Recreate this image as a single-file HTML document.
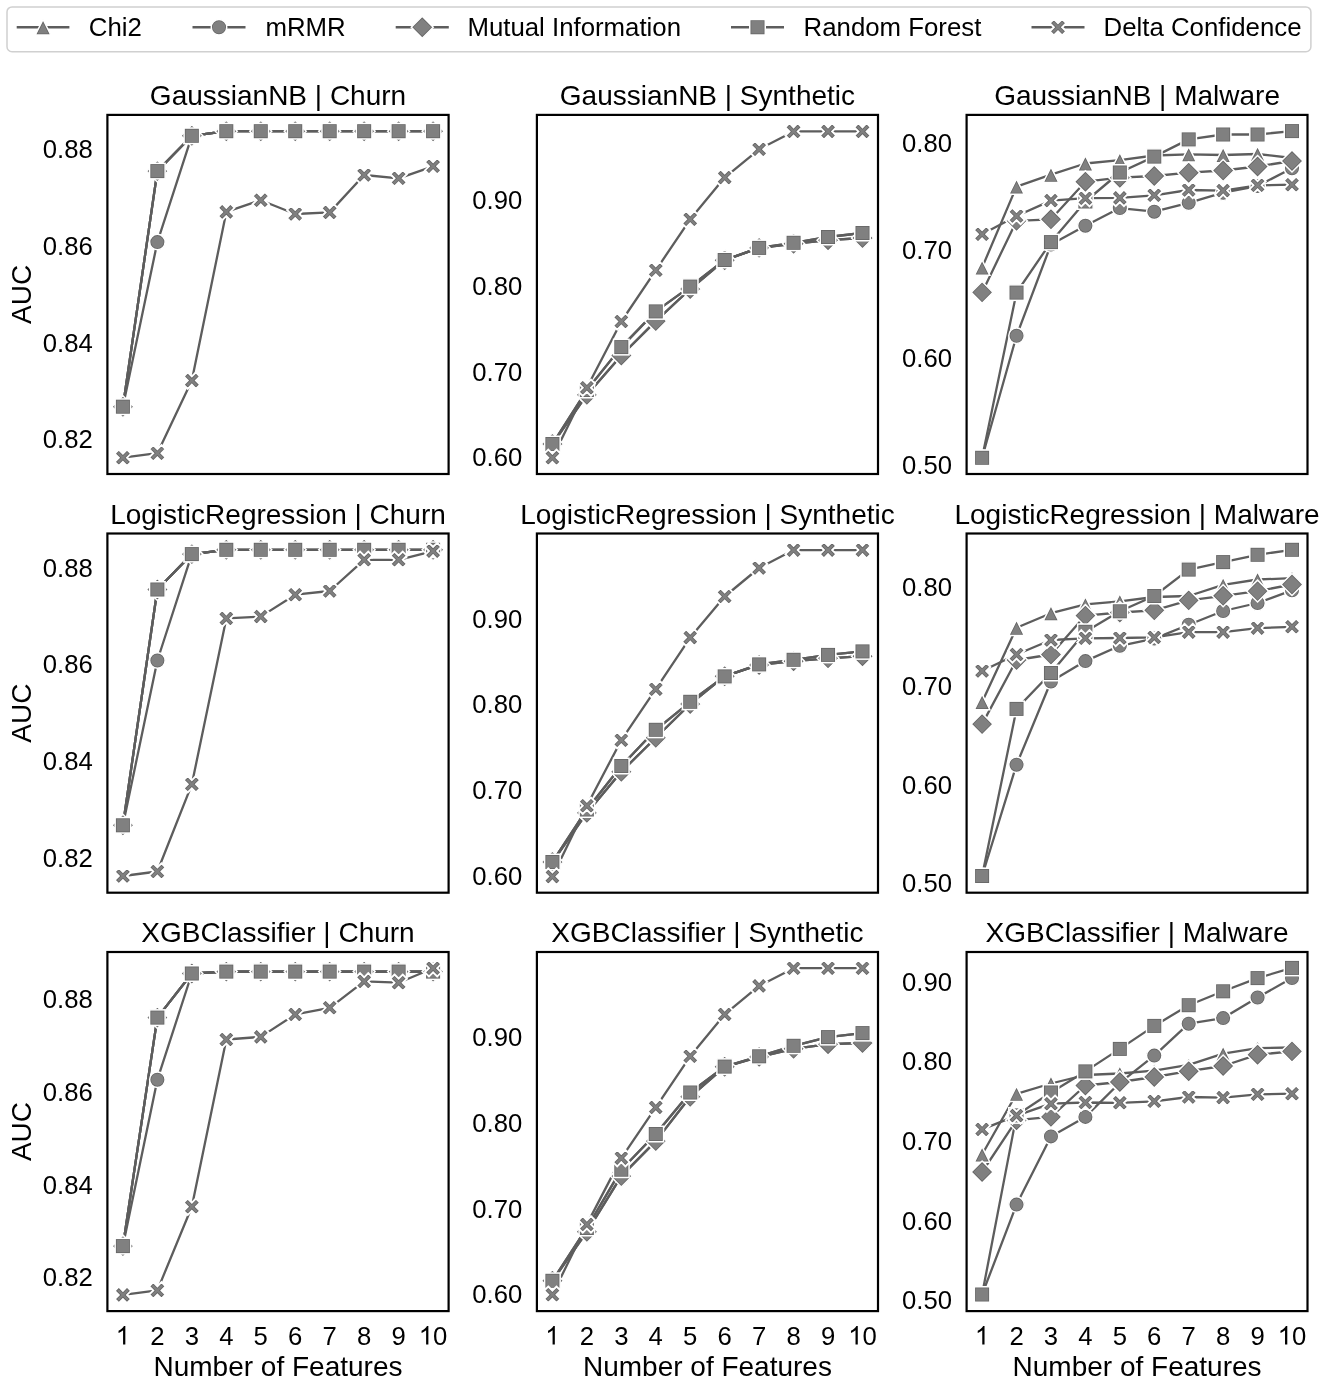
<!DOCTYPE html>
<html><head><meta charset="utf-8"><title>AUC vs Number of Features</title>
<style>
html,body{margin:0;padding:0;background:#fff;}
body{width:1325px;height:1381px;overflow:hidden;}
svg{display:block;font-family:"Liberation Sans",sans-serif;filter:grayscale(1);}
.tk{font-size:25.7px;fill:#000;}
.tl{font-size:28.0px;fill:#000;}
.lg{font-size:25.8px;fill:#000;}
</style></head><body>
<svg width="1325" height="1381" viewBox="0 0 1325 1381">
<rect x="0" y="0" width="1325" height="1381" fill="#fff"/>

<defs>
<clipPath id="c-tri"><path d="M0,-7.750 L-7.750,7.750 L7.750,7.750 Z"/></clipPath>
<g id="m-tri"><path d="M0,-7.750 L-7.750,7.750 L7.750,7.750 Z" fill="#808080"/><path d="M0,-7.750 L-7.750,7.750 L7.750,7.750 Z" fill="none" stroke="#646464" stroke-width="3.10" clip-path="url(#c-tri)"/><path d="M0,-7.750 L-7.750,7.750 L7.750,7.750 Z" fill="none" stroke="#ffffff" stroke-width="1.5" stroke-linejoin="miter"/></g>
<clipPath id="c-cir"><circle cx="0" cy="0" r="7.750"/></clipPath>
<g id="m-cir"><circle cx="0" cy="0" r="7.750" fill="#808080"/><circle cx="0" cy="0" r="7.750" fill="none" stroke="#646464" stroke-width="3.10" clip-path="url(#c-cir)"/><circle cx="0" cy="0" r="7.750" fill="none" stroke="#ffffff" stroke-width="1.5" stroke-linejoin="miter"/></g>
<clipPath id="c-dia"><path d="M0,-10.960 L10.960,0 L0,10.960 L-10.960,0 Z"/></clipPath>
<g id="m-dia"><path d="M0,-10.960 L10.960,0 L0,10.960 L-10.960,0 Z" fill="#808080"/><path d="M0,-10.960 L10.960,0 L0,10.960 L-10.960,0 Z" fill="none" stroke="#646464" stroke-width="3.10" clip-path="url(#c-dia)"/><path d="M0,-10.960 L10.960,0 L0,10.960 L-10.960,0 Z" fill="none" stroke="#ffffff" stroke-width="1.5" stroke-linejoin="miter"/></g>
<clipPath id="c-sq"><rect x="-7.750" y="-7.750" width="15.500" height="15.500"/></clipPath>
<g id="m-sq"><rect x="-7.750" y="-7.750" width="15.500" height="15.500" fill="#808080"/><rect x="-7.750" y="-7.750" width="15.500" height="15.500" fill="none" stroke="#646464" stroke-width="3.10" clip-path="url(#c-sq)"/><rect x="-7.750" y="-7.750" width="15.500" height="15.500" fill="none" stroke="#ffffff" stroke-width="1.5" stroke-linejoin="miter"/></g>
<clipPath id="c-x"><path d="M-4.100,-8.200 L0.000,-4.100 L4.100,-8.200 L8.200,-4.100 L4.100,0.000 L8.200,4.100 L4.100,8.200 L0.000,4.100 L-4.100,8.200 L-8.200,4.100 L-4.100,0.000 L-8.200,-4.100 Z"/></clipPath>
<g id="m-x"><path d="M-4.100,-8.200 L0.000,-4.100 L4.100,-8.200 L8.200,-4.100 L4.100,0.000 L8.200,4.100 L4.100,8.200 L0.000,4.100 L-4.100,8.200 L-8.200,4.100 L-4.100,0.000 L-8.200,-4.100 Z" fill="#808080"/><path d="M-4.100,-8.200 L0.000,-4.100 L4.100,-8.200 L8.200,-4.100 L4.100,0.000 L8.200,4.100 L4.100,8.200 L0.000,4.100 L-4.100,8.200 L-8.200,4.100 L-4.100,0.000 L-8.200,-4.100 Z" fill="none" stroke="#646464" stroke-width="3.50" clip-path="url(#c-x)"/><path d="M-4.100,-8.200 L0.000,-4.100 L4.100,-8.200 L8.200,-4.100 L4.100,0.000 L8.200,4.100 L4.100,8.200 L0.000,4.100 L-4.100,8.200 L-8.200,4.100 L-4.100,0.000 L-8.200,-4.100 Z" fill="none" stroke="#ffffff" stroke-width="1.9" stroke-linejoin="miter"/></g>
</defs>
<defs>
<clipPath id="clip00"><rect x="107.40" y="114.90" width="341.20" height="359.10"/></clipPath>
<clipPath id="clip01"><rect x="536.90" y="114.90" width="341.10" height="359.10"/></clipPath>
<clipPath id="clip02"><rect x="966.60" y="114.90" width="340.90" height="359.10"/></clipPath>
<clipPath id="clip10"><rect x="107.40" y="533.50" width="341.20" height="359.20"/></clipPath>
<clipPath id="clip11"><rect x="536.90" y="533.50" width="341.10" height="359.20"/></clipPath>
<clipPath id="clip12"><rect x="966.60" y="533.50" width="340.90" height="359.20"/></clipPath>
<clipPath id="clip20"><rect x="107.40" y="952.00" width="341.20" height="359.10"/></clipPath>
<clipPath id="clip21"><rect x="536.90" y="952.00" width="341.10" height="359.10"/></clipPath>
<clipPath id="clip22"><rect x="966.60" y="952.00" width="340.90" height="359.10"/></clipPath>
</defs>
<text class="tl" x="278.00" y="105.20" text-anchor="middle">GaussianNB | Churn</text>
<text class="tk" x="92.80" y="448.40" text-anchor="end">0.82</text>
<text class="tk" x="92.80" y="351.60" text-anchor="end">0.84</text>
<text class="tk" x="92.80" y="254.90" text-anchor="end">0.86</text>
<text class="tk" x="92.80" y="158.15" text-anchor="end">0.88</text>
<g clip-path="url(#clip00)">
<polyline points="122.91,406.70 157.37,171.10 191.84,135.80 226.30,131.20 260.77,131.20 295.23,131.20 329.70,131.20 364.16,131.20 398.63,131.20 433.09,131.20" fill="none" stroke="#5d5d5d" stroke-width="2.3" stroke-linejoin="round" stroke-linecap="butt"/>
<polyline points="122.91,406.70 157.37,242.10 191.84,135.80 226.30,131.20 260.77,131.20 295.23,131.20 329.70,131.20 364.16,131.20 398.63,131.20 433.09,131.20" fill="none" stroke="#5d5d5d" stroke-width="2.3" stroke-linejoin="round" stroke-linecap="butt"/>
<polyline points="122.91,406.70 157.37,171.10 191.84,135.80 226.30,131.20 260.77,131.20 295.23,131.20 329.70,131.20 364.16,131.20 398.63,131.20 433.09,131.20" fill="none" stroke="#5d5d5d" stroke-width="2.3" stroke-linejoin="round" stroke-linecap="butt"/>
<polyline points="122.91,406.70 157.37,171.10 191.84,135.80 226.30,131.20 260.77,131.20 295.23,131.20 329.70,131.20 364.16,131.20 398.63,131.20 433.09,131.20" fill="none" stroke="#5d5d5d" stroke-width="2.3" stroke-linejoin="round" stroke-linecap="butt"/>
<polyline points="122.91,457.70 157.37,453.20 191.84,380.60 226.30,211.90 260.77,200.20 295.23,214.00 329.70,212.40 364.16,175.00 398.63,178.30 433.09,166.30" fill="none" stroke="#5d5d5d" stroke-width="2.3" stroke-linejoin="round" stroke-linecap="butt"/>
<use href="#m-tri" x="122.91" y="406.70"/>
<use href="#m-tri" x="157.37" y="171.10"/>
<use href="#m-tri" x="191.84" y="135.80"/>
<use href="#m-tri" x="226.30" y="131.20"/>
<use href="#m-tri" x="260.77" y="131.20"/>
<use href="#m-tri" x="295.23" y="131.20"/>
<use href="#m-tri" x="329.70" y="131.20"/>
<use href="#m-tri" x="364.16" y="131.20"/>
<use href="#m-tri" x="398.63" y="131.20"/>
<use href="#m-tri" x="433.09" y="131.20"/>
<use href="#m-cir" x="122.91" y="406.70"/>
<use href="#m-cir" x="157.37" y="242.10"/>
<use href="#m-cir" x="191.84" y="135.80"/>
<use href="#m-cir" x="226.30" y="131.20"/>
<use href="#m-cir" x="260.77" y="131.20"/>
<use href="#m-cir" x="295.23" y="131.20"/>
<use href="#m-cir" x="329.70" y="131.20"/>
<use href="#m-cir" x="364.16" y="131.20"/>
<use href="#m-cir" x="398.63" y="131.20"/>
<use href="#m-cir" x="433.09" y="131.20"/>
<use href="#m-dia" x="122.91" y="406.70"/>
<use href="#m-dia" x="157.37" y="171.10"/>
<use href="#m-dia" x="191.84" y="135.80"/>
<use href="#m-dia" x="226.30" y="131.20"/>
<use href="#m-dia" x="260.77" y="131.20"/>
<use href="#m-dia" x="295.23" y="131.20"/>
<use href="#m-dia" x="329.70" y="131.20"/>
<use href="#m-dia" x="364.16" y="131.20"/>
<use href="#m-dia" x="398.63" y="131.20"/>
<use href="#m-dia" x="433.09" y="131.20"/>
<use href="#m-sq" x="122.91" y="406.70"/>
<use href="#m-sq" x="157.37" y="171.10"/>
<use href="#m-sq" x="191.84" y="135.80"/>
<use href="#m-sq" x="226.30" y="131.20"/>
<use href="#m-sq" x="260.77" y="131.20"/>
<use href="#m-sq" x="295.23" y="131.20"/>
<use href="#m-sq" x="329.70" y="131.20"/>
<use href="#m-sq" x="364.16" y="131.20"/>
<use href="#m-sq" x="398.63" y="131.20"/>
<use href="#m-sq" x="433.09" y="131.20"/>
<use href="#m-x" x="122.91" y="457.70"/>
<use href="#m-x" x="157.37" y="453.20"/>
<use href="#m-x" x="191.84" y="380.60"/>
<use href="#m-x" x="226.30" y="211.90"/>
<use href="#m-x" x="260.77" y="200.20"/>
<use href="#m-x" x="295.23" y="214.00"/>
<use href="#m-x" x="329.70" y="212.40"/>
<use href="#m-x" x="364.16" y="175.00"/>
<use href="#m-x" x="398.63" y="178.30"/>
<use href="#m-x" x="433.09" y="166.30"/>
</g>
<rect x="107.40" y="114.90" width="341.20" height="359.10" fill="none" stroke="#000" stroke-width="2.2"/>
<text class="tl" transform="translate(30.8,294.45) rotate(-90)" x="0" y="0" text-anchor="middle">AUC</text>
<text class="tl" x="707.45" y="105.20" text-anchor="middle">GaussianNB | Synthetic</text>
<text class="tk" x="522.30" y="466.40" text-anchor="end">0.60</text>
<text class="tk" x="522.30" y="380.60" text-anchor="end">0.70</text>
<text class="tk" x="522.30" y="294.80" text-anchor="end">0.80</text>
<text class="tk" x="522.30" y="209.05" text-anchor="end">0.90</text>
<g clip-path="url(#clip01)">
<polyline points="552.40,444.00 586.86,390.00 621.31,347.10 655.77,311.40 690.22,286.60 724.68,260.00 759.13,247.90 793.59,242.80 828.04,237.00 862.50,233.00" fill="none" stroke="#5d5d5d" stroke-width="2.3" stroke-linejoin="round" stroke-linecap="butt"/>
<polyline points="552.40,444.00 586.86,394.90 621.31,355.50 655.77,321.10 690.22,289.00 724.68,260.20 759.13,247.90 793.59,243.80 828.04,240.20 862.50,238.00" fill="none" stroke="#5d5d5d" stroke-width="2.3" stroke-linejoin="round" stroke-linecap="butt"/>
<polyline points="552.40,444.00 586.86,394.90 621.31,355.50 655.77,321.10 690.22,289.00 724.68,260.20 759.13,247.90 793.59,243.80 828.04,240.20 862.50,238.00" fill="none" stroke="#5d5d5d" stroke-width="2.3" stroke-linejoin="round" stroke-linecap="butt"/>
<polyline points="552.40,444.00 586.86,390.00 621.31,347.10 655.77,311.40 690.22,286.60 724.68,260.00 759.13,247.90 793.59,242.80 828.04,237.00 862.50,233.00" fill="none" stroke="#5d5d5d" stroke-width="2.3" stroke-linejoin="round" stroke-linecap="butt"/>
<polyline points="552.40,457.80 586.86,387.70 621.31,321.50 655.77,270.30 690.22,219.30 724.68,177.60 759.13,149.30 793.59,131.40 828.04,131.40 862.50,131.40" fill="none" stroke="#5d5d5d" stroke-width="2.3" stroke-linejoin="round" stroke-linecap="butt"/>
<use href="#m-tri" x="552.40" y="444.00"/>
<use href="#m-tri" x="586.86" y="390.00"/>
<use href="#m-tri" x="621.31" y="347.10"/>
<use href="#m-tri" x="655.77" y="311.40"/>
<use href="#m-tri" x="690.22" y="286.60"/>
<use href="#m-tri" x="724.68" y="260.00"/>
<use href="#m-tri" x="759.13" y="247.90"/>
<use href="#m-tri" x="793.59" y="242.80"/>
<use href="#m-tri" x="828.04" y="237.00"/>
<use href="#m-tri" x="862.50" y="233.00"/>
<use href="#m-cir" x="552.40" y="444.00"/>
<use href="#m-cir" x="586.86" y="394.90"/>
<use href="#m-cir" x="621.31" y="355.50"/>
<use href="#m-cir" x="655.77" y="321.10"/>
<use href="#m-cir" x="690.22" y="289.00"/>
<use href="#m-cir" x="724.68" y="260.20"/>
<use href="#m-cir" x="759.13" y="247.90"/>
<use href="#m-cir" x="793.59" y="243.80"/>
<use href="#m-cir" x="828.04" y="240.20"/>
<use href="#m-cir" x="862.50" y="238.00"/>
<use href="#m-dia" x="552.40" y="444.00"/>
<use href="#m-dia" x="586.86" y="394.90"/>
<use href="#m-dia" x="621.31" y="355.50"/>
<use href="#m-dia" x="655.77" y="321.10"/>
<use href="#m-dia" x="690.22" y="289.00"/>
<use href="#m-dia" x="724.68" y="260.20"/>
<use href="#m-dia" x="759.13" y="247.90"/>
<use href="#m-dia" x="793.59" y="243.80"/>
<use href="#m-dia" x="828.04" y="240.20"/>
<use href="#m-dia" x="862.50" y="238.00"/>
<use href="#m-sq" x="552.40" y="444.00"/>
<use href="#m-sq" x="586.86" y="390.00"/>
<use href="#m-sq" x="621.31" y="347.10"/>
<use href="#m-sq" x="655.77" y="311.40"/>
<use href="#m-sq" x="690.22" y="286.60"/>
<use href="#m-sq" x="724.68" y="260.00"/>
<use href="#m-sq" x="759.13" y="247.90"/>
<use href="#m-sq" x="793.59" y="242.80"/>
<use href="#m-sq" x="828.04" y="237.00"/>
<use href="#m-sq" x="862.50" y="233.00"/>
<use href="#m-x" x="552.40" y="457.80"/>
<use href="#m-x" x="586.86" y="387.70"/>
<use href="#m-x" x="621.31" y="321.50"/>
<use href="#m-x" x="655.77" y="270.30"/>
<use href="#m-x" x="690.22" y="219.30"/>
<use href="#m-x" x="724.68" y="177.60"/>
<use href="#m-x" x="759.13" y="149.30"/>
<use href="#m-x" x="793.59" y="131.40"/>
<use href="#m-x" x="828.04" y="131.40"/>
<use href="#m-x" x="862.50" y="131.40"/>
</g>
<rect x="536.90" y="114.90" width="341.10" height="359.10" fill="none" stroke="#000" stroke-width="2.2"/>
<text class="tl" x="1137.05" y="105.20" text-anchor="middle">GaussianNB | Malware</text>
<text class="tk" x="952.00" y="474.10" text-anchor="end">0.50</text>
<text class="tk" x="952.00" y="366.75" text-anchor="end">0.60</text>
<text class="tk" x="952.00" y="259.40" text-anchor="end">0.70</text>
<text class="tk" x="952.00" y="152.05" text-anchor="end">0.80</text>
<g clip-path="url(#clip02)">
<polyline points="982.10,267.60 1016.53,186.60 1050.96,174.70 1085.40,163.50 1119.83,160.20 1154.27,155.50 1188.70,154.30 1223.14,155.00 1257.57,154.00 1292.00,158.00" fill="none" stroke="#5d5d5d" stroke-width="2.3" stroke-linejoin="round" stroke-linecap="butt"/>
<polyline points="982.10,457.80 1016.53,335.80 1050.96,244.50 1085.40,225.70 1119.83,208.10 1154.27,211.70 1188.70,202.80 1223.14,192.70 1257.57,186.00 1292.00,168.30" fill="none" stroke="#5d5d5d" stroke-width="2.3" stroke-linejoin="round" stroke-linecap="butt"/>
<polyline points="982.10,292.40 1016.53,220.90 1050.96,219.30 1085.40,181.70 1119.83,177.70 1154.27,176.00 1188.70,172.70 1223.14,170.50 1257.57,166.50 1292.00,161.00" fill="none" stroke="#5d5d5d" stroke-width="2.3" stroke-linejoin="round" stroke-linecap="butt"/>
<polyline points="982.10,457.80 1016.53,292.60 1050.96,242.10 1085.40,201.50 1119.83,172.50 1154.27,156.60 1188.70,139.40 1223.14,134.50 1257.57,134.50 1292.00,131.10" fill="none" stroke="#5d5d5d" stroke-width="2.3" stroke-linejoin="round" stroke-linecap="butt"/>
<polyline points="982.10,234.30 1016.53,216.00 1050.96,200.60 1085.40,198.20 1119.83,197.90 1154.27,195.30 1188.70,190.00 1223.14,190.60 1257.57,185.30 1292.00,184.70" fill="none" stroke="#5d5d5d" stroke-width="2.3" stroke-linejoin="round" stroke-linecap="butt"/>
<use href="#m-tri" x="982.10" y="267.60"/>
<use href="#m-tri" x="1016.53" y="186.60"/>
<use href="#m-tri" x="1050.96" y="174.70"/>
<use href="#m-tri" x="1085.40" y="163.50"/>
<use href="#m-tri" x="1119.83" y="160.20"/>
<use href="#m-tri" x="1154.27" y="155.50"/>
<use href="#m-tri" x="1188.70" y="154.30"/>
<use href="#m-tri" x="1223.14" y="155.00"/>
<use href="#m-tri" x="1257.57" y="154.00"/>
<use href="#m-tri" x="1292.00" y="158.00"/>
<use href="#m-cir" x="982.10" y="457.80"/>
<use href="#m-cir" x="1016.53" y="335.80"/>
<use href="#m-cir" x="1050.96" y="244.50"/>
<use href="#m-cir" x="1085.40" y="225.70"/>
<use href="#m-cir" x="1119.83" y="208.10"/>
<use href="#m-cir" x="1154.27" y="211.70"/>
<use href="#m-cir" x="1188.70" y="202.80"/>
<use href="#m-cir" x="1223.14" y="192.70"/>
<use href="#m-cir" x="1257.57" y="186.00"/>
<use href="#m-cir" x="1292.00" y="168.30"/>
<use href="#m-dia" x="982.10" y="292.40"/>
<use href="#m-dia" x="1016.53" y="220.90"/>
<use href="#m-dia" x="1050.96" y="219.30"/>
<use href="#m-dia" x="1085.40" y="181.70"/>
<use href="#m-dia" x="1119.83" y="177.70"/>
<use href="#m-dia" x="1154.27" y="176.00"/>
<use href="#m-dia" x="1188.70" y="172.70"/>
<use href="#m-dia" x="1223.14" y="170.50"/>
<use href="#m-dia" x="1257.57" y="166.50"/>
<use href="#m-dia" x="1292.00" y="161.00"/>
<use href="#m-sq" x="982.10" y="457.80"/>
<use href="#m-sq" x="1016.53" y="292.60"/>
<use href="#m-sq" x="1050.96" y="242.10"/>
<use href="#m-sq" x="1085.40" y="201.50"/>
<use href="#m-sq" x="1119.83" y="172.50"/>
<use href="#m-sq" x="1154.27" y="156.60"/>
<use href="#m-sq" x="1188.70" y="139.40"/>
<use href="#m-sq" x="1223.14" y="134.50"/>
<use href="#m-sq" x="1257.57" y="134.50"/>
<use href="#m-sq" x="1292.00" y="131.10"/>
<use href="#m-x" x="982.10" y="234.30"/>
<use href="#m-x" x="1016.53" y="216.00"/>
<use href="#m-x" x="1050.96" y="200.60"/>
<use href="#m-x" x="1085.40" y="198.20"/>
<use href="#m-x" x="1119.83" y="197.90"/>
<use href="#m-x" x="1154.27" y="195.30"/>
<use href="#m-x" x="1188.70" y="190.00"/>
<use href="#m-x" x="1223.14" y="190.60"/>
<use href="#m-x" x="1257.57" y="185.30"/>
<use href="#m-x" x="1292.00" y="184.70"/>
</g>
<rect x="966.60" y="114.90" width="340.90" height="359.10" fill="none" stroke="#000" stroke-width="2.2"/>
<text class="tl" x="278.00" y="523.80" text-anchor="middle">LogisticRegression | Churn</text>
<text class="tk" x="92.80" y="867.00" text-anchor="end">0.82</text>
<text class="tk" x="92.80" y="770.20" text-anchor="end">0.84</text>
<text class="tk" x="92.80" y="673.40" text-anchor="end">0.86</text>
<text class="tk" x="92.80" y="576.60" text-anchor="end">0.88</text>
<g clip-path="url(#clip10)">
<polyline points="122.91,825.30 157.37,589.50 191.84,554.10 226.30,549.80 260.77,549.80 295.23,549.80 329.70,549.80 364.16,549.80 398.63,549.80 433.09,549.80" fill="none" stroke="#5d5d5d" stroke-width="2.3" stroke-linejoin="round" stroke-linecap="butt"/>
<polyline points="122.91,825.30 157.37,660.50 191.84,554.10 226.30,549.80 260.77,549.80 295.23,549.80 329.70,549.80 364.16,549.80 398.63,549.80 433.09,549.80" fill="none" stroke="#5d5d5d" stroke-width="2.3" stroke-linejoin="round" stroke-linecap="butt"/>
<polyline points="122.91,825.30 157.37,589.50 191.84,554.10 226.30,549.80 260.77,549.80 295.23,549.80 329.70,549.80 364.16,549.80 398.63,549.80 433.09,549.80" fill="none" stroke="#5d5d5d" stroke-width="2.3" stroke-linejoin="round" stroke-linecap="butt"/>
<polyline points="122.91,825.30 157.37,589.50 191.84,554.10 226.30,549.80 260.77,549.80 295.23,549.80 329.70,549.80 364.16,549.80 398.63,549.80 433.09,549.80" fill="none" stroke="#5d5d5d" stroke-width="2.3" stroke-linejoin="round" stroke-linecap="butt"/>
<polyline points="122.91,876.00 157.37,871.50 191.84,784.30 226.30,618.40 260.77,616.60 295.23,594.70 329.70,591.00 364.16,559.80 398.63,559.80 433.09,551.10" fill="none" stroke="#5d5d5d" stroke-width="2.3" stroke-linejoin="round" stroke-linecap="butt"/>
<use href="#m-tri" x="122.91" y="825.30"/>
<use href="#m-tri" x="157.37" y="589.50"/>
<use href="#m-tri" x="191.84" y="554.10"/>
<use href="#m-tri" x="226.30" y="549.80"/>
<use href="#m-tri" x="260.77" y="549.80"/>
<use href="#m-tri" x="295.23" y="549.80"/>
<use href="#m-tri" x="329.70" y="549.80"/>
<use href="#m-tri" x="364.16" y="549.80"/>
<use href="#m-tri" x="398.63" y="549.80"/>
<use href="#m-tri" x="433.09" y="549.80"/>
<use href="#m-cir" x="122.91" y="825.30"/>
<use href="#m-cir" x="157.37" y="660.50"/>
<use href="#m-cir" x="191.84" y="554.10"/>
<use href="#m-cir" x="226.30" y="549.80"/>
<use href="#m-cir" x="260.77" y="549.80"/>
<use href="#m-cir" x="295.23" y="549.80"/>
<use href="#m-cir" x="329.70" y="549.80"/>
<use href="#m-cir" x="364.16" y="549.80"/>
<use href="#m-cir" x="398.63" y="549.80"/>
<use href="#m-cir" x="433.09" y="549.80"/>
<use href="#m-dia" x="122.91" y="825.30"/>
<use href="#m-dia" x="157.37" y="589.50"/>
<use href="#m-dia" x="191.84" y="554.10"/>
<use href="#m-dia" x="226.30" y="549.80"/>
<use href="#m-dia" x="260.77" y="549.80"/>
<use href="#m-dia" x="295.23" y="549.80"/>
<use href="#m-dia" x="329.70" y="549.80"/>
<use href="#m-dia" x="364.16" y="549.80"/>
<use href="#m-dia" x="398.63" y="549.80"/>
<use href="#m-dia" x="433.09" y="549.80"/>
<use href="#m-sq" x="122.91" y="825.30"/>
<use href="#m-sq" x="157.37" y="589.50"/>
<use href="#m-sq" x="191.84" y="554.10"/>
<use href="#m-sq" x="226.30" y="549.80"/>
<use href="#m-sq" x="260.77" y="549.80"/>
<use href="#m-sq" x="295.23" y="549.80"/>
<use href="#m-sq" x="329.70" y="549.80"/>
<use href="#m-sq" x="364.16" y="549.80"/>
<use href="#m-sq" x="398.63" y="549.80"/>
<use href="#m-sq" x="433.09" y="549.80"/>
<use href="#m-x" x="122.91" y="876.00"/>
<use href="#m-x" x="157.37" y="871.50"/>
<use href="#m-x" x="191.84" y="784.30"/>
<use href="#m-x" x="226.30" y="618.40"/>
<use href="#m-x" x="260.77" y="616.60"/>
<use href="#m-x" x="295.23" y="594.70"/>
<use href="#m-x" x="329.70" y="591.00"/>
<use href="#m-x" x="364.16" y="559.80"/>
<use href="#m-x" x="398.63" y="559.80"/>
<use href="#m-x" x="433.09" y="551.10"/>
</g>
<rect x="107.40" y="533.50" width="341.20" height="359.20" fill="none" stroke="#000" stroke-width="2.2"/>
<text class="tl" transform="translate(30.8,713.10) rotate(-90)" x="0" y="0" text-anchor="middle">AUC</text>
<text class="tl" x="707.45" y="523.80" text-anchor="middle">LogisticRegression | Synthetic</text>
<text class="tk" x="522.30" y="884.60" text-anchor="end">0.60</text>
<text class="tk" x="522.30" y="799.00" text-anchor="end">0.70</text>
<text class="tk" x="522.30" y="713.30" text-anchor="end">0.80</text>
<text class="tk" x="522.30" y="627.70" text-anchor="end">0.90</text>
<g clip-path="url(#clip11)">
<polyline points="552.40,862.00 586.86,809.50 621.31,766.00 655.77,729.80 690.22,701.80 724.68,676.40 759.13,664.40 793.59,659.80 828.04,654.90 862.50,651.40" fill="none" stroke="#5d5d5d" stroke-width="2.3" stroke-linejoin="round" stroke-linecap="butt"/>
<polyline points="552.40,862.00 586.86,812.90 621.31,771.80 655.77,737.80 690.22,704.00 724.68,676.20 759.13,665.00 793.59,661.20 828.04,658.30 862.50,656.20" fill="none" stroke="#5d5d5d" stroke-width="2.3" stroke-linejoin="round" stroke-linecap="butt"/>
<polyline points="552.40,862.00 586.86,812.90 621.31,771.80 655.77,737.80 690.22,704.00 724.68,676.20 759.13,665.00 793.59,661.20 828.04,658.30 862.50,656.20" fill="none" stroke="#5d5d5d" stroke-width="2.3" stroke-linejoin="round" stroke-linecap="butt"/>
<polyline points="552.40,862.00 586.86,809.50 621.31,766.00 655.77,729.80 690.22,701.80 724.68,676.40 759.13,664.40 793.59,659.80 828.04,654.90 862.50,651.40" fill="none" stroke="#5d5d5d" stroke-width="2.3" stroke-linejoin="round" stroke-linecap="butt"/>
<polyline points="552.40,876.60 586.86,805.70 621.31,740.20 655.77,689.20 690.22,637.60 724.68,596.50 759.13,568.00 793.59,550.10 828.04,550.10 862.50,550.10" fill="none" stroke="#5d5d5d" stroke-width="2.3" stroke-linejoin="round" stroke-linecap="butt"/>
<use href="#m-tri" x="552.40" y="862.00"/>
<use href="#m-tri" x="586.86" y="809.50"/>
<use href="#m-tri" x="621.31" y="766.00"/>
<use href="#m-tri" x="655.77" y="729.80"/>
<use href="#m-tri" x="690.22" y="701.80"/>
<use href="#m-tri" x="724.68" y="676.40"/>
<use href="#m-tri" x="759.13" y="664.40"/>
<use href="#m-tri" x="793.59" y="659.80"/>
<use href="#m-tri" x="828.04" y="654.90"/>
<use href="#m-tri" x="862.50" y="651.40"/>
<use href="#m-cir" x="552.40" y="862.00"/>
<use href="#m-cir" x="586.86" y="812.90"/>
<use href="#m-cir" x="621.31" y="771.80"/>
<use href="#m-cir" x="655.77" y="737.80"/>
<use href="#m-cir" x="690.22" y="704.00"/>
<use href="#m-cir" x="724.68" y="676.20"/>
<use href="#m-cir" x="759.13" y="665.00"/>
<use href="#m-cir" x="793.59" y="661.20"/>
<use href="#m-cir" x="828.04" y="658.30"/>
<use href="#m-cir" x="862.50" y="656.20"/>
<use href="#m-dia" x="552.40" y="862.00"/>
<use href="#m-dia" x="586.86" y="812.90"/>
<use href="#m-dia" x="621.31" y="771.80"/>
<use href="#m-dia" x="655.77" y="737.80"/>
<use href="#m-dia" x="690.22" y="704.00"/>
<use href="#m-dia" x="724.68" y="676.20"/>
<use href="#m-dia" x="759.13" y="665.00"/>
<use href="#m-dia" x="793.59" y="661.20"/>
<use href="#m-dia" x="828.04" y="658.30"/>
<use href="#m-dia" x="862.50" y="656.20"/>
<use href="#m-sq" x="552.40" y="862.00"/>
<use href="#m-sq" x="586.86" y="809.50"/>
<use href="#m-sq" x="621.31" y="766.00"/>
<use href="#m-sq" x="655.77" y="729.80"/>
<use href="#m-sq" x="690.22" y="701.80"/>
<use href="#m-sq" x="724.68" y="676.40"/>
<use href="#m-sq" x="759.13" y="664.40"/>
<use href="#m-sq" x="793.59" y="659.80"/>
<use href="#m-sq" x="828.04" y="654.90"/>
<use href="#m-sq" x="862.50" y="651.40"/>
<use href="#m-x" x="552.40" y="876.60"/>
<use href="#m-x" x="586.86" y="805.70"/>
<use href="#m-x" x="621.31" y="740.20"/>
<use href="#m-x" x="655.77" y="689.20"/>
<use href="#m-x" x="690.22" y="637.60"/>
<use href="#m-x" x="724.68" y="596.50"/>
<use href="#m-x" x="759.13" y="568.00"/>
<use href="#m-x" x="793.59" y="550.10"/>
<use href="#m-x" x="828.04" y="550.10"/>
<use href="#m-x" x="862.50" y="550.10"/>
</g>
<rect x="536.90" y="533.50" width="341.10" height="359.20" fill="none" stroke="#000" stroke-width="2.2"/>
<text class="tl" x="1137.05" y="523.80" text-anchor="middle">LogisticRegression | Malware</text>
<text class="tk" x="952.00" y="892.20" text-anchor="end">0.50</text>
<text class="tk" x="952.00" y="793.50" text-anchor="end">0.60</text>
<text class="tk" x="952.00" y="694.70" text-anchor="end">0.70</text>
<text class="tk" x="952.00" y="596.00" text-anchor="end">0.80</text>
<g clip-path="url(#clip12)">
<polyline points="982.10,702.00 1016.53,627.70 1050.96,613.20 1085.40,604.30 1119.83,601.30 1154.27,597.00 1188.70,596.00 1223.14,584.80 1257.57,579.50 1292.00,578.20" fill="none" stroke="#5d5d5d" stroke-width="2.3" stroke-linejoin="round" stroke-linecap="butt"/>
<polyline points="982.10,876.00 1016.53,764.70 1050.96,681.50 1085.40,661.10 1119.83,645.80 1154.27,638.60 1188.70,624.70 1223.14,611.00 1257.57,603.00 1292.00,590.30" fill="none" stroke="#5d5d5d" stroke-width="2.3" stroke-linejoin="round" stroke-linecap="butt"/>
<polyline points="982.10,724.10 1016.53,660.00 1050.96,654.50 1085.40,615.60 1119.83,612.50 1154.27,610.30 1188.70,600.40 1223.14,595.80 1257.57,591.10 1292.00,584.50" fill="none" stroke="#5d5d5d" stroke-width="2.3" stroke-linejoin="round" stroke-linecap="butt"/>
<polyline points="982.10,876.00 1016.53,708.90 1050.96,673.00 1085.40,631.80 1119.83,611.30 1154.27,596.00 1188.70,569.60 1223.14,562.10 1257.57,554.80 1292.00,549.80" fill="none" stroke="#5d5d5d" stroke-width="2.3" stroke-linejoin="round" stroke-linecap="butt"/>
<polyline points="982.10,671.00 1016.53,654.50 1050.96,640.00 1085.40,638.30 1119.83,638.00 1154.27,637.40 1188.70,632.10 1223.14,632.10 1257.57,628.10 1292.00,626.80" fill="none" stroke="#5d5d5d" stroke-width="2.3" stroke-linejoin="round" stroke-linecap="butt"/>
<use href="#m-tri" x="982.10" y="702.00"/>
<use href="#m-tri" x="1016.53" y="627.70"/>
<use href="#m-tri" x="1050.96" y="613.20"/>
<use href="#m-tri" x="1085.40" y="604.30"/>
<use href="#m-tri" x="1119.83" y="601.30"/>
<use href="#m-tri" x="1154.27" y="597.00"/>
<use href="#m-tri" x="1188.70" y="596.00"/>
<use href="#m-tri" x="1223.14" y="584.80"/>
<use href="#m-tri" x="1257.57" y="579.50"/>
<use href="#m-tri" x="1292.00" y="578.20"/>
<use href="#m-cir" x="982.10" y="876.00"/>
<use href="#m-cir" x="1016.53" y="764.70"/>
<use href="#m-cir" x="1050.96" y="681.50"/>
<use href="#m-cir" x="1085.40" y="661.10"/>
<use href="#m-cir" x="1119.83" y="645.80"/>
<use href="#m-cir" x="1154.27" y="638.60"/>
<use href="#m-cir" x="1188.70" y="624.70"/>
<use href="#m-cir" x="1223.14" y="611.00"/>
<use href="#m-cir" x="1257.57" y="603.00"/>
<use href="#m-cir" x="1292.00" y="590.30"/>
<use href="#m-dia" x="982.10" y="724.10"/>
<use href="#m-dia" x="1016.53" y="660.00"/>
<use href="#m-dia" x="1050.96" y="654.50"/>
<use href="#m-dia" x="1085.40" y="615.60"/>
<use href="#m-dia" x="1119.83" y="612.50"/>
<use href="#m-dia" x="1154.27" y="610.30"/>
<use href="#m-dia" x="1188.70" y="600.40"/>
<use href="#m-dia" x="1223.14" y="595.80"/>
<use href="#m-dia" x="1257.57" y="591.10"/>
<use href="#m-dia" x="1292.00" y="584.50"/>
<use href="#m-sq" x="982.10" y="876.00"/>
<use href="#m-sq" x="1016.53" y="708.90"/>
<use href="#m-sq" x="1050.96" y="673.00"/>
<use href="#m-sq" x="1085.40" y="631.80"/>
<use href="#m-sq" x="1119.83" y="611.30"/>
<use href="#m-sq" x="1154.27" y="596.00"/>
<use href="#m-sq" x="1188.70" y="569.60"/>
<use href="#m-sq" x="1223.14" y="562.10"/>
<use href="#m-sq" x="1257.57" y="554.80"/>
<use href="#m-sq" x="1292.00" y="549.80"/>
<use href="#m-x" x="982.10" y="671.00"/>
<use href="#m-x" x="1016.53" y="654.50"/>
<use href="#m-x" x="1050.96" y="640.00"/>
<use href="#m-x" x="1085.40" y="638.30"/>
<use href="#m-x" x="1119.83" y="638.00"/>
<use href="#m-x" x="1154.27" y="637.40"/>
<use href="#m-x" x="1188.70" y="632.10"/>
<use href="#m-x" x="1223.14" y="632.10"/>
<use href="#m-x" x="1257.57" y="628.10"/>
<use href="#m-x" x="1292.00" y="626.80"/>
</g>
<rect x="966.60" y="533.50" width="340.90" height="359.20" fill="none" stroke="#000" stroke-width="2.2"/>
<text class="tl" x="278.00" y="942.30" text-anchor="middle">XGBClassifier | Churn</text>
<text class="tk" x="92.80" y="1286.20" text-anchor="end">0.82</text>
<text class="tk" x="92.80" y="1193.50" text-anchor="end">0.84</text>
<text class="tk" x="92.80" y="1100.80" text-anchor="end">0.86</text>
<text class="tk" x="92.80" y="1008.06" text-anchor="end">0.88</text>
<g clip-path="url(#clip20)">
<polyline points="122.91,1246.10 157.37,1017.60 191.84,973.50 226.30,971.60 260.77,971.60 295.23,971.60 329.70,971.60 364.16,971.60 398.63,971.60 433.09,971.60" fill="none" stroke="#5d5d5d" stroke-width="2.3" stroke-linejoin="round" stroke-linecap="butt"/>
<polyline points="122.91,1246.10 157.37,1079.70 191.84,973.50 226.30,971.60 260.77,971.60 295.23,971.60 329.70,971.60 364.16,971.60 398.63,971.60 433.09,971.60" fill="none" stroke="#5d5d5d" stroke-width="2.3" stroke-linejoin="round" stroke-linecap="butt"/>
<polyline points="122.91,1246.10 157.37,1017.60 191.84,973.50 226.30,971.60 260.77,971.60 295.23,971.60 329.70,971.60 364.16,971.60 398.63,971.60 433.09,971.60" fill="none" stroke="#5d5d5d" stroke-width="2.3" stroke-linejoin="round" stroke-linecap="butt"/>
<polyline points="122.91,1246.10 157.37,1017.60 191.84,973.50 226.30,971.60 260.77,971.60 295.23,971.60 329.70,971.60 364.16,971.60 398.63,971.60 433.09,971.60" fill="none" stroke="#5d5d5d" stroke-width="2.3" stroke-linejoin="round" stroke-linecap="butt"/>
<polyline points="122.91,1294.90 157.37,1290.40 191.84,1206.70 226.30,1039.50 260.77,1036.90 295.23,1014.40 329.70,1007.80 364.16,981.40 398.63,982.70 433.09,968.20" fill="none" stroke="#5d5d5d" stroke-width="2.3" stroke-linejoin="round" stroke-linecap="butt"/>
<use href="#m-tri" x="122.91" y="1246.10"/>
<use href="#m-tri" x="157.37" y="1017.60"/>
<use href="#m-tri" x="191.84" y="973.50"/>
<use href="#m-tri" x="226.30" y="971.60"/>
<use href="#m-tri" x="260.77" y="971.60"/>
<use href="#m-tri" x="295.23" y="971.60"/>
<use href="#m-tri" x="329.70" y="971.60"/>
<use href="#m-tri" x="364.16" y="971.60"/>
<use href="#m-tri" x="398.63" y="971.60"/>
<use href="#m-tri" x="433.09" y="971.60"/>
<use href="#m-cir" x="122.91" y="1246.10"/>
<use href="#m-cir" x="157.37" y="1079.70"/>
<use href="#m-cir" x="191.84" y="973.50"/>
<use href="#m-cir" x="226.30" y="971.60"/>
<use href="#m-cir" x="260.77" y="971.60"/>
<use href="#m-cir" x="295.23" y="971.60"/>
<use href="#m-cir" x="329.70" y="971.60"/>
<use href="#m-cir" x="364.16" y="971.60"/>
<use href="#m-cir" x="398.63" y="971.60"/>
<use href="#m-cir" x="433.09" y="971.60"/>
<use href="#m-dia" x="122.91" y="1246.10"/>
<use href="#m-dia" x="157.37" y="1017.60"/>
<use href="#m-dia" x="191.84" y="973.50"/>
<use href="#m-dia" x="226.30" y="971.60"/>
<use href="#m-dia" x="260.77" y="971.60"/>
<use href="#m-dia" x="295.23" y="971.60"/>
<use href="#m-dia" x="329.70" y="971.60"/>
<use href="#m-dia" x="364.16" y="971.60"/>
<use href="#m-dia" x="398.63" y="971.60"/>
<use href="#m-dia" x="433.09" y="971.60"/>
<use href="#m-sq" x="122.91" y="1246.10"/>
<use href="#m-sq" x="157.37" y="1017.60"/>
<use href="#m-sq" x="191.84" y="973.50"/>
<use href="#m-sq" x="226.30" y="971.60"/>
<use href="#m-sq" x="260.77" y="971.60"/>
<use href="#m-sq" x="295.23" y="971.60"/>
<use href="#m-sq" x="329.70" y="971.60"/>
<use href="#m-sq" x="364.16" y="971.60"/>
<use href="#m-sq" x="398.63" y="971.60"/>
<use href="#m-sq" x="433.09" y="971.60"/>
<use href="#m-x" x="122.91" y="1294.90"/>
<use href="#m-x" x="157.37" y="1290.40"/>
<use href="#m-x" x="191.84" y="1206.70"/>
<use href="#m-x" x="226.30" y="1039.50"/>
<use href="#m-x" x="260.77" y="1036.90"/>
<use href="#m-x" x="295.23" y="1014.40"/>
<use href="#m-x" x="329.70" y="1007.80"/>
<use href="#m-x" x="364.16" y="981.40"/>
<use href="#m-x" x="398.63" y="982.70"/>
<use href="#m-x" x="433.09" y="968.20"/>
</g>
<rect x="107.40" y="952.00" width="341.20" height="359.10" fill="none" stroke="#000" stroke-width="2.2"/>
<path transform="translate(115.76,1344.60) scale(0.012549,-0.012549)" fill="#000" d="M763,0 L583,0 L583,1147 C540,1106 483,1065 412,1023 C342,981 278,951 221,930 L221,1104 C323,1152 412,1210 489,1278 C566,1346 620,1412 652,1476 L763,1476 Z"/>
<text class="tk" x="157.37" y="1344.6" text-anchor="middle">2</text>
<text class="tk" x="191.84" y="1344.6" text-anchor="middle">3</text>
<text class="tk" x="226.30" y="1344.6" text-anchor="middle">4</text>
<text class="tk" x="260.77" y="1344.6" text-anchor="middle">5</text>
<text class="tk" x="295.23" y="1344.6" text-anchor="middle">6</text>
<text class="tk" x="329.70" y="1344.6" text-anchor="middle">7</text>
<text class="tk" x="364.16" y="1344.6" text-anchor="middle">8</text>
<text class="tk" x="398.63" y="1344.6" text-anchor="middle">9</text>
<path transform="translate(418.80,1344.60) scale(0.012549,-0.012549)" fill="#000" d="M763,0 L583,0 L583,1147 C540,1106 483,1065 412,1023 C342,981 278,951 221,930 L221,1104 C323,1152 412,1210 489,1278 C566,1346 620,1412 652,1476 L763,1476 Z"/>
<text class="tk" x="433.09" y="1344.6">0</text>
<text class="tl" x="278.00" y="1375.8" text-anchor="middle">Number of Features</text>
<text class="tl" transform="translate(30.8,1131.55) rotate(-90)" x="0" y="0" text-anchor="middle">AUC</text>
<text class="tl" x="707.45" y="942.30" text-anchor="middle">XGBClassifier | Synthetic</text>
<text class="tk" x="522.30" y="1303.30" text-anchor="end">0.60</text>
<text class="tk" x="522.30" y="1217.60" text-anchor="end">0.70</text>
<text class="tk" x="522.30" y="1131.90" text-anchor="end">0.80</text>
<text class="tk" x="522.30" y="1046.20" text-anchor="end">0.90</text>
<g clip-path="url(#clip21)">
<polyline points="552.40,1280.80 586.86,1228.00 621.31,1169.70 655.77,1134.00 690.22,1092.50 724.68,1066.60 759.13,1056.30 793.59,1045.80 828.04,1037.10 862.50,1033.10" fill="none" stroke="#5d5d5d" stroke-width="2.3" stroke-linejoin="round" stroke-linecap="butt"/>
<polyline points="552.40,1280.80 586.86,1231.80 621.31,1176.10 655.77,1141.10 690.22,1096.80 724.68,1066.80 759.13,1056.90 793.59,1048.80 828.04,1044.20 862.50,1043.00" fill="none" stroke="#5d5d5d" stroke-width="2.3" stroke-linejoin="round" stroke-linecap="butt"/>
<polyline points="552.40,1280.80 586.86,1231.80 621.31,1176.10 655.77,1141.10 690.22,1096.80 724.68,1066.80 759.13,1056.90 793.59,1048.80 828.04,1044.20 862.50,1043.00" fill="none" stroke="#5d5d5d" stroke-width="2.3" stroke-linejoin="round" stroke-linecap="butt"/>
<polyline points="552.40,1280.80 586.86,1228.00 621.31,1169.70 655.77,1134.00 690.22,1092.50 724.68,1066.60 759.13,1056.30 793.59,1045.80 828.04,1037.10 862.50,1033.10" fill="none" stroke="#5d5d5d" stroke-width="2.3" stroke-linejoin="round" stroke-linecap="butt"/>
<polyline points="552.40,1294.70 586.86,1224.40 621.31,1158.10 655.77,1107.40 690.22,1056.30 724.68,1014.40 759.13,985.90 793.59,968.20 828.04,968.20 862.50,968.20" fill="none" stroke="#5d5d5d" stroke-width="2.3" stroke-linejoin="round" stroke-linecap="butt"/>
<use href="#m-tri" x="552.40" y="1280.80"/>
<use href="#m-tri" x="586.86" y="1228.00"/>
<use href="#m-tri" x="621.31" y="1169.70"/>
<use href="#m-tri" x="655.77" y="1134.00"/>
<use href="#m-tri" x="690.22" y="1092.50"/>
<use href="#m-tri" x="724.68" y="1066.60"/>
<use href="#m-tri" x="759.13" y="1056.30"/>
<use href="#m-tri" x="793.59" y="1045.80"/>
<use href="#m-tri" x="828.04" y="1037.10"/>
<use href="#m-tri" x="862.50" y="1033.10"/>
<use href="#m-cir" x="552.40" y="1280.80"/>
<use href="#m-cir" x="586.86" y="1231.80"/>
<use href="#m-cir" x="621.31" y="1176.10"/>
<use href="#m-cir" x="655.77" y="1141.10"/>
<use href="#m-cir" x="690.22" y="1096.80"/>
<use href="#m-cir" x="724.68" y="1066.80"/>
<use href="#m-cir" x="759.13" y="1056.90"/>
<use href="#m-cir" x="793.59" y="1048.80"/>
<use href="#m-cir" x="828.04" y="1044.20"/>
<use href="#m-cir" x="862.50" y="1043.00"/>
<use href="#m-dia" x="552.40" y="1280.80"/>
<use href="#m-dia" x="586.86" y="1231.80"/>
<use href="#m-dia" x="621.31" y="1176.10"/>
<use href="#m-dia" x="655.77" y="1141.10"/>
<use href="#m-dia" x="690.22" y="1096.80"/>
<use href="#m-dia" x="724.68" y="1066.80"/>
<use href="#m-dia" x="759.13" y="1056.90"/>
<use href="#m-dia" x="793.59" y="1048.80"/>
<use href="#m-dia" x="828.04" y="1044.20"/>
<use href="#m-dia" x="862.50" y="1043.00"/>
<use href="#m-sq" x="552.40" y="1280.80"/>
<use href="#m-sq" x="586.86" y="1228.00"/>
<use href="#m-sq" x="621.31" y="1169.70"/>
<use href="#m-sq" x="655.77" y="1134.00"/>
<use href="#m-sq" x="690.22" y="1092.50"/>
<use href="#m-sq" x="724.68" y="1066.60"/>
<use href="#m-sq" x="759.13" y="1056.30"/>
<use href="#m-sq" x="793.59" y="1045.80"/>
<use href="#m-sq" x="828.04" y="1037.10"/>
<use href="#m-sq" x="862.50" y="1033.10"/>
<use href="#m-x" x="552.40" y="1294.70"/>
<use href="#m-x" x="586.86" y="1224.40"/>
<use href="#m-x" x="621.31" y="1158.10"/>
<use href="#m-x" x="655.77" y="1107.40"/>
<use href="#m-x" x="690.22" y="1056.30"/>
<use href="#m-x" x="724.68" y="1014.40"/>
<use href="#m-x" x="759.13" y="985.90"/>
<use href="#m-x" x="793.59" y="968.20"/>
<use href="#m-x" x="828.04" y="968.20"/>
<use href="#m-x" x="862.50" y="968.20"/>
</g>
<rect x="536.90" y="952.00" width="341.10" height="359.10" fill="none" stroke="#000" stroke-width="2.2"/>
<path transform="translate(545.26,1344.60) scale(0.012549,-0.012549)" fill="#000" d="M763,0 L583,0 L583,1147 C540,1106 483,1065 412,1023 C342,981 278,951 221,930 L221,1104 C323,1152 412,1210 489,1278 C566,1346 620,1412 652,1476 L763,1476 Z"/>
<text class="tk" x="586.86" y="1344.6" text-anchor="middle">2</text>
<text class="tk" x="621.31" y="1344.6" text-anchor="middle">3</text>
<text class="tk" x="655.77" y="1344.6" text-anchor="middle">4</text>
<text class="tk" x="690.22" y="1344.6" text-anchor="middle">5</text>
<text class="tk" x="724.68" y="1344.6" text-anchor="middle">6</text>
<text class="tk" x="759.13" y="1344.6" text-anchor="middle">7</text>
<text class="tk" x="793.59" y="1344.6" text-anchor="middle">8</text>
<text class="tk" x="828.04" y="1344.6" text-anchor="middle">9</text>
<path transform="translate(848.20,1344.60) scale(0.012549,-0.012549)" fill="#000" d="M763,0 L583,0 L583,1147 C540,1106 483,1065 412,1023 C342,981 278,951 221,930 L221,1104 C323,1152 412,1210 489,1278 C566,1346 620,1412 652,1476 L763,1476 Z"/>
<text class="tk" x="862.50" y="1344.6">0</text>
<text class="tl" x="707.45" y="1375.8" text-anchor="middle">Number of Features</text>
<text class="tl" x="1137.05" y="942.30" text-anchor="middle">XGBClassifier | Malware</text>
<text class="tk" x="952.00" y="1309.30" text-anchor="end">0.50</text>
<text class="tk" x="952.00" y="1229.70" text-anchor="end">0.60</text>
<text class="tk" x="952.00" y="1150.00" text-anchor="end">0.70</text>
<text class="tk" x="952.00" y="1070.40" text-anchor="end">0.80</text>
<text class="tk" x="952.00" y="990.75" text-anchor="end">0.90</text>
<g clip-path="url(#clip22)">
<polyline points="982.10,1154.50 1016.53,1093.80 1050.96,1083.50 1085.40,1075.00 1119.83,1073.50 1154.27,1070.60 1188.70,1064.90 1223.14,1053.70 1257.57,1048.10 1292.00,1047.50" fill="none" stroke="#5d5d5d" stroke-width="2.3" stroke-linejoin="round" stroke-linecap="butt"/>
<polyline points="982.10,1294.50 1016.53,1204.60 1050.96,1136.40 1085.40,1116.90 1119.83,1082.80 1154.27,1055.60 1188.70,1023.70 1223.14,1018.10 1257.57,997.50 1292.00,978.00" fill="none" stroke="#5d5d5d" stroke-width="2.3" stroke-linejoin="round" stroke-linecap="butt"/>
<polyline points="982.10,1172.00 1016.53,1120.20 1050.96,1116.90 1085.40,1085.50 1119.83,1082.00 1154.27,1077.00 1188.70,1071.20 1223.14,1066.00 1257.57,1054.70 1292.00,1051.40" fill="none" stroke="#5d5d5d" stroke-width="2.3" stroke-linejoin="round" stroke-linecap="butt"/>
<polyline points="982.10,1294.50 1016.53,1115.40 1050.96,1092.50 1085.40,1071.40 1119.83,1048.90 1154.27,1025.90 1188.70,1005.20 1223.14,991.30 1257.57,978.10 1292.00,967.90" fill="none" stroke="#5d5d5d" stroke-width="2.3" stroke-linejoin="round" stroke-linecap="butt"/>
<polyline points="982.10,1129.40 1016.53,1115.60 1050.96,1103.70 1085.40,1102.50 1119.83,1102.80 1154.27,1101.30 1188.70,1097.00 1223.14,1097.60 1257.57,1094.30 1292.00,1093.70" fill="none" stroke="#5d5d5d" stroke-width="2.3" stroke-linejoin="round" stroke-linecap="butt"/>
<use href="#m-tri" x="982.10" y="1154.50"/>
<use href="#m-tri" x="1016.53" y="1093.80"/>
<use href="#m-tri" x="1050.96" y="1083.50"/>
<use href="#m-tri" x="1085.40" y="1075.00"/>
<use href="#m-tri" x="1119.83" y="1073.50"/>
<use href="#m-tri" x="1154.27" y="1070.60"/>
<use href="#m-tri" x="1188.70" y="1064.90"/>
<use href="#m-tri" x="1223.14" y="1053.70"/>
<use href="#m-tri" x="1257.57" y="1048.10"/>
<use href="#m-tri" x="1292.00" y="1047.50"/>
<use href="#m-cir" x="982.10" y="1294.50"/>
<use href="#m-cir" x="1016.53" y="1204.60"/>
<use href="#m-cir" x="1050.96" y="1136.40"/>
<use href="#m-cir" x="1085.40" y="1116.90"/>
<use href="#m-cir" x="1119.83" y="1082.80"/>
<use href="#m-cir" x="1154.27" y="1055.60"/>
<use href="#m-cir" x="1188.70" y="1023.70"/>
<use href="#m-cir" x="1223.14" y="1018.10"/>
<use href="#m-cir" x="1257.57" y="997.50"/>
<use href="#m-cir" x="1292.00" y="978.00"/>
<use href="#m-dia" x="982.10" y="1172.00"/>
<use href="#m-dia" x="1016.53" y="1120.20"/>
<use href="#m-dia" x="1050.96" y="1116.90"/>
<use href="#m-dia" x="1085.40" y="1085.50"/>
<use href="#m-dia" x="1119.83" y="1082.00"/>
<use href="#m-dia" x="1154.27" y="1077.00"/>
<use href="#m-dia" x="1188.70" y="1071.20"/>
<use href="#m-dia" x="1223.14" y="1066.00"/>
<use href="#m-dia" x="1257.57" y="1054.70"/>
<use href="#m-dia" x="1292.00" y="1051.40"/>
<use href="#m-sq" x="982.10" y="1294.50"/>
<use href="#m-sq" x="1016.53" y="1115.40"/>
<use href="#m-sq" x="1050.96" y="1092.50"/>
<use href="#m-sq" x="1085.40" y="1071.40"/>
<use href="#m-sq" x="1119.83" y="1048.90"/>
<use href="#m-sq" x="1154.27" y="1025.90"/>
<use href="#m-sq" x="1188.70" y="1005.20"/>
<use href="#m-sq" x="1223.14" y="991.30"/>
<use href="#m-sq" x="1257.57" y="978.10"/>
<use href="#m-sq" x="1292.00" y="967.90"/>
<use href="#m-x" x="982.10" y="1129.40"/>
<use href="#m-x" x="1016.53" y="1115.60"/>
<use href="#m-x" x="1050.96" y="1103.70"/>
<use href="#m-x" x="1085.40" y="1102.50"/>
<use href="#m-x" x="1119.83" y="1102.80"/>
<use href="#m-x" x="1154.27" y="1101.30"/>
<use href="#m-x" x="1188.70" y="1097.00"/>
<use href="#m-x" x="1223.14" y="1097.60"/>
<use href="#m-x" x="1257.57" y="1094.30"/>
<use href="#m-x" x="1292.00" y="1093.70"/>
</g>
<rect x="966.60" y="952.00" width="340.90" height="359.10" fill="none" stroke="#000" stroke-width="2.2"/>
<path transform="translate(974.95,1344.60) scale(0.012549,-0.012549)" fill="#000" d="M763,0 L583,0 L583,1147 C540,1106 483,1065 412,1023 C342,981 278,951 221,930 L221,1104 C323,1152 412,1210 489,1278 C566,1346 620,1412 652,1476 L763,1476 Z"/>
<text class="tk" x="1016.53" y="1344.6" text-anchor="middle">2</text>
<text class="tk" x="1050.96" y="1344.6" text-anchor="middle">3</text>
<text class="tk" x="1085.40" y="1344.6" text-anchor="middle">4</text>
<text class="tk" x="1119.83" y="1344.6" text-anchor="middle">5</text>
<text class="tk" x="1154.27" y="1344.6" text-anchor="middle">6</text>
<text class="tk" x="1188.70" y="1344.6" text-anchor="middle">7</text>
<text class="tk" x="1223.14" y="1344.6" text-anchor="middle">8</text>
<text class="tk" x="1257.57" y="1344.6" text-anchor="middle">9</text>
<path transform="translate(1277.71,1344.60) scale(0.012549,-0.012549)" fill="#000" d="M763,0 L583,0 L583,1147 C540,1106 483,1065 412,1023 C342,981 278,951 221,930 L221,1104 C323,1152 412,1210 489,1278 C566,1346 620,1412 652,1476 L763,1476 Z"/>
<text class="tk" x="1292.00" y="1344.6">0</text>
<text class="tl" x="1137.05" y="1375.8" text-anchor="middle">Number of Features</text>
<rect x="7.0" y="6.9" width="1303.9" height="44.8" rx="5" ry="5" fill="#fff" stroke="#d0d0d0" stroke-width="1.5"/>
<line x1="16.7" y1="27.25" x2="69.4" y2="27.25" stroke="#5d5d5d" stroke-width="2.3"/>
<use href="#m-tri" x="43.05" y="27.25"/>
<text class="lg" x="88.8" y="36.2">Chi2</text>
<line x1="192.5" y1="27.25" x2="245.5" y2="27.25" stroke="#5d5d5d" stroke-width="2.3"/>
<use href="#m-cir" x="219.00" y="27.25"/>
<text class="lg" x="265.5" y="36.2">mRMR</text>
<line x1="395.7" y1="27.25" x2="448.8" y2="27.25" stroke="#5d5d5d" stroke-width="2.3"/>
<use href="#m-dia" x="422.25" y="27.25"/>
<text class="lg" x="467.4" y="36.2">Mutual Information</text>
<line x1="731.0" y1="27.25" x2="784.0" y2="27.25" stroke="#5d5d5d" stroke-width="2.3"/>
<use href="#m-sq" x="757.50" y="27.25"/>
<text class="lg" x="803.6" y="36.2">Random Forest</text>
<line x1="1031.5" y1="27.25" x2="1084.5" y2="27.25" stroke="#5d5d5d" stroke-width="2.3"/>
<use href="#m-x" x="1058.00" y="27.25"/>
<text class="lg" x="1103.6" y="36.2">Delta Confidence</text>
</svg></body></html>
